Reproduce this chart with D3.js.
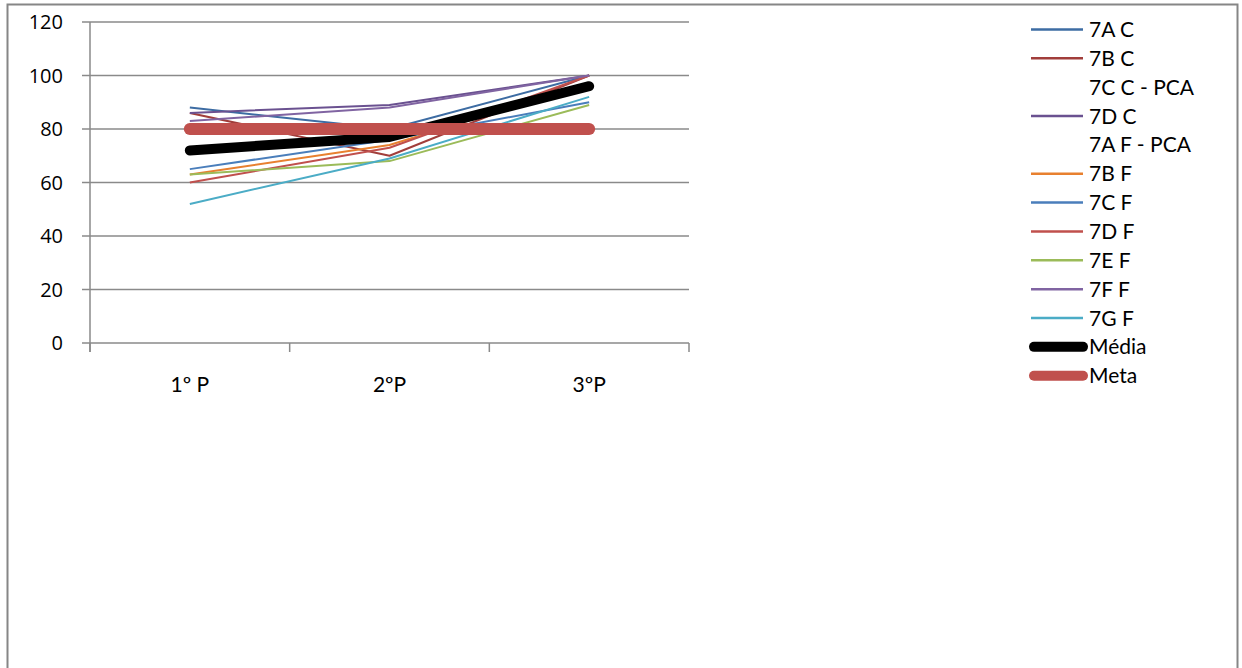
<!DOCTYPE html>
<html><head><meta charset="utf-8">
<script src="https://cdn.jsdelivr.net/npm/d3@7"></script>
<style>body{margin:0;background:#fff}svg{display:block}text{font-family:Lato,"Open Sans",sans-serif;fill:#000}</style>
</head><body><svg id="c" width="1242" height="668"></svg>
<script>
const categories = ["1º P", "2ºP", "3ºP"];
const yTicks = [0, 20, 40, 60, 80, 100, 120];
const seriesNames = ["7A C","7B C","7C C - PCA","7D C","7A F - PCA","7B F","7C F","7D F","7E F","7F F","7G F","Média","Meta"];
const s7AC = [88, 80, 100];
const s7BC = [86, 70, 100];
const s7CC = [null, null, null];
const s7DC = [86, 89, 100];
const s7AF = [null, null, null];
const s7BF = [63, 74, 97];
const s7CF = [65, 76, 90];
const s7DF = [60, 73, 100];
const s7EF = [63, 68, 89];
const s7FF = [83, 88, 100];
const s7GF = [52, 69, 92];
const sMedia = [72, 77, 96];
const sMeta = [80, 80, 80];
const seriesValues = [s7AC,s7BC,s7CC,s7DC,s7AF,s7BF,s7CF,s7DF,s7EF,s7FF,s7GF,sMedia,sMeta];
const colors = ["#3D6CA3","#A13E3B",null,"#6A5190",null,"#E8802F","#4A7EBB","#C0504D","#9BBB59","#8064A2","#4BACC6","#000000","#C0504D"];
const widths = [2,2,2,2,2,2,2,2,2,2,2,10,12];

const svg = d3.select("#c");
svg.append("rect").attr("x",7.5).attr("y",4.5).attr("width",1230).attr("height",720)
  .attr("fill","none").attr("stroke","#868686").attr("stroke-width",2);

const x = d3.scaleBand().domain(categories).range([90, 689]).padding(0);
const y = d3.scaleLinear().domain([0,120]).range([343, 22]);
const gridC = "#8A8A8A";

svg.append("g").selectAll("line").data(yTicks).join("line")
  .attr("x1",82).attr("x2",689).attr("y1",d=>y(d)).attr("y2",d=>y(d))
  .attr("stroke",gridC).attr("stroke-width",1.5);
svg.append("line").attr("x1",90).attr("x2",90).attr("y1",y(120)).attr("y2",352)
  .attr("stroke",gridC).attr("stroke-width",1.5);
const xt = categories.map(c=>x(c)).concat([x(categories[2])+x.bandwidth()]);
svg.append("g").selectAll("line").data(xt).join("line")
  .attr("x1",d=>d).attr("x2",d=>d).attr("y1",343).attr("y2",352)
  .attr("stroke",gridC).attr("stroke-width",1.5);
svg.append("g").selectAll("text").data(yTicks).join("text")
  .attr("x",63).attr("y",d=>y(d)).attr("dy","0.36em").attr("text-anchor","end")
  .style("font-family","'Open Sans',sans-serif").attr("font-size",20).text(d=>d);
svg.append("g").selectAll("text").data(categories).join("text")
  .attr("x",d=>x(d)+x.bandwidth()/2).attr("y",392).attr("text-anchor","middle")
  .attr("font-size",21).text(d=>d);

const line = d3.line().defined(d=>d!=null)
  .x((d,i)=>x(categories[i])+x.bandwidth()/2).y(d=>y(d));
const g = svg.append("g");
seriesValues.forEach((vals,k)=>{
  if(!colors[k]) return;
  g.append("path").datum(vals).attr("d",line).attr("fill","none")
    .attr("stroke",colors[k]).attr("stroke-width",widths[k])
    .attr("stroke-linecap",widths[k]>4?"round":"butt").attr("stroke-linejoin","round");
});

const lg = svg.append("g");
seriesNames.forEach((n,k)=>{
  const yy = 29.5 + k*28.85;
  if(colors[k]){
    const thick = widths[k]>4;
    lg.append("line").attr("x1",thick?1034:1031).attr("x2",1083)
      .attr("y1",yy).attr("y2",yy).attr("stroke",colors[k])
      .attr("stroke-width",thick?10:2.5).attr("stroke-linecap",thick?"round":"butt");
  }
  lg.append("text").attr("x",1089).attr("y",yy).attr("dy","0.36em")
    .attr("font-size",21).text(n);
});
</script></body></html>
